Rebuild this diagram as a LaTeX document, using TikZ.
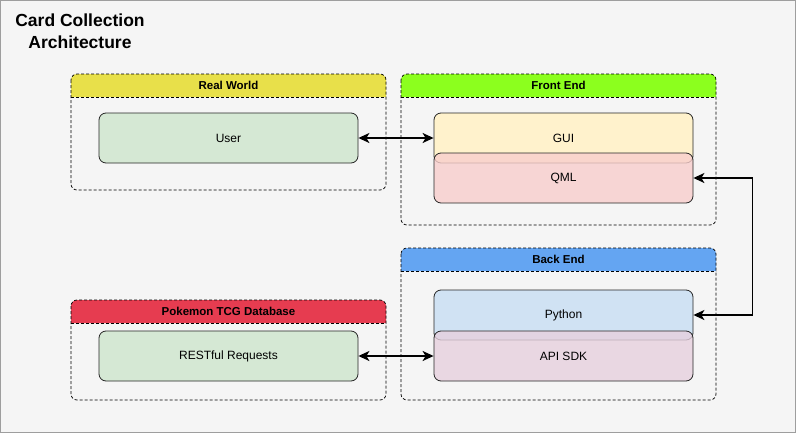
\documentclass[tikz,border=0pt]{standalone}
\usepackage{fontspec}
\setmainfont{Liberation Sans}
\usetikzlibrary{arrows.meta,calc}
\definecolor{bgc}{HTML}{F5F5F5}
\definecolor{framec}{HTML}{9E9E9E}
\definecolor{yelh}{HTML}{E8E04A}
\definecolor{grnh}{HTML}{8CFF1E}
\definecolor{bluh}{HTML}{64A5F2}
\definecolor{redh}{HTML}{E63C50}
\definecolor{usrc}{HTML}{D5E8D4}
\definecolor{guic}{HTML}{FFF2CC}
\definecolor{qmlc}{HTML}{F8CECC}
\definecolor{pyc}{HTML}{D0E2F3}
\definecolor{apic}{HTML}{E6D0DE}
\tikzset{
  x=1pt,y=-1pt,
  inbox/.style={draw=black!85, line width=0.8pt, rounded corners=7pt, minimum width=259pt, minimum height=50pt, inner sep=0pt, font=\fontsize{12}{14}\selectfont},
  contline/.style={draw=black, dashed, dash pattern=on 3pt off 2pt, line width=0.7pt},
  hdr/.style={font=\fontsize{11.5}{13}\selectfont\bfseries, inner sep=0pt},
  arr/.style={line width=1.6pt, {Stealth[length=11pt,width=10pt,inset=3pt]}-{Stealth[length=11pt,width=10pt,inset=3pt]}},
}
\begin{document}
\begin{tikzpicture}
\useasboundingbox (0,0) rectangle (796,434);
\fill[white] (0,0) rectangle (796,434);
\draw[framec, fill=bgc, line width=1pt] (0.5,0.5) rectangle (795.3,432.5);
\node[font=\fontsize{17.5}{22}\selectfont\bfseries, align=center, inner sep=0pt] (title) at (80,31) {Card Collection\\Architecture};

% Real World container
\fill[yelh] (71,97) [rounded corners=6pt] -- (71,74) -- (386,74) [sharp corners] -- (386,97) -- cycle;
\draw[contline, rounded corners=6pt] (71,74) rectangle (386,190);
\draw[contline] (71,97) -- (386,97);
\node[hdr] (rwh) at (228.5,85.5) {Real World};

% Front End container
\fill[grnh] (401,97) [rounded corners=6pt] -- (401,74) -- (716,74) [sharp corners] -- (716,97) -- cycle;
\draw[contline, rounded corners=6pt] (401,74) rectangle (716,225);
\draw[contline] (401,97) -- (716,97);
\node[hdr] (feh) at (558.5,85.5) {Front End};

% Back End container
\fill[bluh] (401,271) [rounded corners=6pt] -- (401,248) -- (716,248) [sharp corners] -- (716,271) -- cycle;
\draw[contline, rounded corners=6pt] (401,248) rectangle (716,400);
\draw[contline] (401,271) -- (716,271);
\node[hdr] (beh) at (558.5,259.5) {Back End};

% Pokemon container
\fill[redh] (71,323) [rounded corners=6pt] -- (71,300) -- (386,300) [sharp corners] -- (386,323) -- cycle;
\draw[contline, rounded corners=6pt] (71,300) rectangle (386,400);
\draw[contline] (71,323) -- (386,323);
\node[hdr] (pkh) at (228.5,311.5) {Pokemon TCG Database};

% inner boxes
\node[inbox, fill=usrc] (user) at (228.5,138) {User};
\node[inbox, fill=guic] (gui) at (563.5,138) {GUI};
\node[inbox, fill=qmlc, fill opacity=0.8, text opacity=1] (qml) at (563.5,178) {QML};
\node[inbox, fill=pyc] (python) at (563.5,315) {Python};
\node[inbox, fill=apic, fill opacity=0.8, text opacity=1] (api) at (563.5,356) {API SDK};
\node[inbox, fill=usrc] (rest) at (228.5,356) {RESTful Requests};

% connectors
\draw[arr] (user.east) -- (gui.west);
\draw[arr] (rest.east) -- (api.west);
\draw[arr, rounded corners=0pt] (qml.east) -- ++(59,0) |- (python.east);
\end{tikzpicture}
\end{document}
